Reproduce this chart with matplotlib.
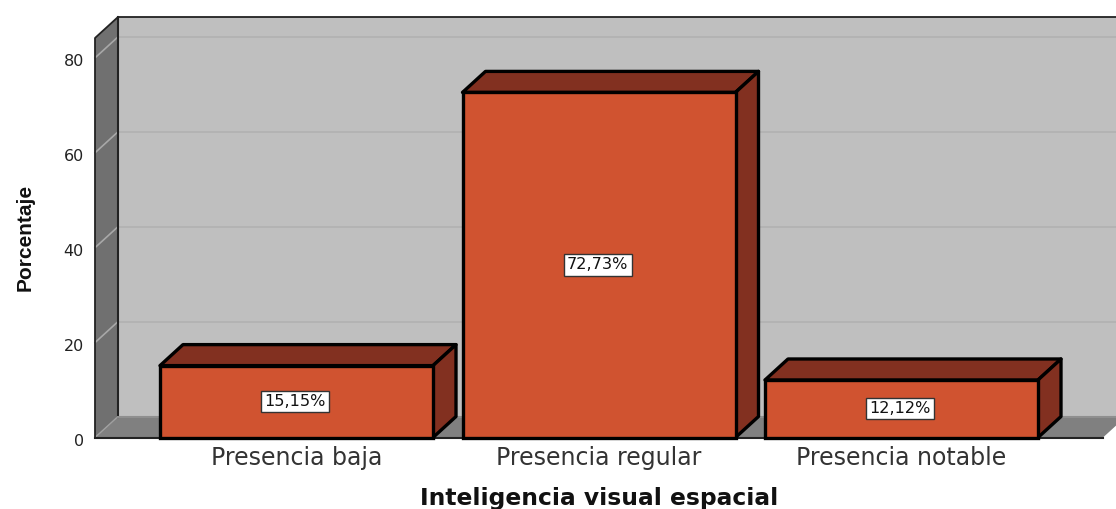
import matplotlib
matplotlib.use('Agg')
import matplotlib.pyplot as plt
from matplotlib.patches import Polygon
from matplotlib.transforms import ScaledTranslation

categories = ['Presencia baja', 'Presencia regular', 'Presencia notable']
values = [15.15, 72.73, 12.12]
labels = ['15,15%', '72,73%', '12,12%']
yticks = [0, 20, 40, 60, 80]

W, H = 1116, 509
# pixel layout of the front plane
left, right, base, top = 95, 1116, 437.5, 38
px_y = 4.745
px_x = 302.5
x0 = 296.5
dx = 23 / px_x
dy = 21 / px_y
bar_w = 273 / px_x

fig = plt.figure(figsize=(W / 100, H / 100), dpi=100)
ax = fig.add_axes([left / W, 1 - base / H, (right - left) / W, (base - top) / H])
ax.set_xlim((left - x0) / px_x, (right - x0) / px_x)
ax.set_ylim(0, (base - top) / px_y)
ax.patch.set_visible(False)
for s in ax.spines.values():
    s.set_visible(False)

xa, xb = ax.get_xlim()
ymax = ax.get_ylim()[1]
xend = (1103 - x0) / px_x


def poly(pts, fc, ec='none', lw=0, z=1):
    ax.add_patch(Polygon(pts, closed=True, fc=fc, ec=ec, lw=lw, zorder=z,
                         clip_on=False, joinstyle='round'))


# back wall, side wall, floor
poly([(xa + dx, dy), (xb + 1, dy), (xb + 1, ymax + dy), (xa + dx, ymax + dy)], '#bfbfbf')
poly([(xa, 0), (xa + dx, dy), (xa + dx, ymax + dy), (xa, ymax)], '#707070')
poly([(xa, 0), (xend, 0), (xend + dx, dy), (xa + dx, dy)], '#808080')

for v in yticks[1:]:
    ax.plot([xa + dx, xb + 1], [v + dy, v + dy], color='#b3b3b3', lw=1.4, zorder=2, clip_on=False)
    ax.plot([xa, xa + dx], [v, v + dy], color='#a8a8a8', lw=1.2, zorder=2, clip_on=False)
ax.plot([xa, xa + dx], [0, dy], color='#a0a0a0', lw=1, zorder=2)

# frame lines
ax.plot([xa, xa, xa + dx, xb + 1], [0, ymax, ymax + dy, ymax + dy], color='#222222', lw=1.3, zorder=3, clip_on=False)
ax.plot([xa + dx, xa + dx], [dy, ymax + dy], color='#222222', lw=1.5, zorder=3, clip_on=False)
ax.plot([xa, xend], [0, 0], color='#222222', lw=1.5, zorder=3, clip_on=False)
ax.plot([xa + dx, xb + 1], [dy, dy], color='#8f8f8f', lw=1.5, zorder=3, clip_on=False)

# bars
pos = list(range(len(values)))
ax.bar(pos, values, width=bar_w, color='#d05330', edgecolor='black', linewidth=2.4, zorder=5, clip_on=False)
for p, v, lab in zip(pos, values, labels):
    a, b = p - bar_w / 2, p + bar_w / 2
    poly([(a, v), (b, v), (b + dx, v + dy), (a + dx, v + dy)], '#823020', 'black', 2.4, 4)
    poly([(b, 0), (b + dx, dy), (b + dx, v + dy), (b, v)], '#823020', 'black', 2.4, 4)
    ax.text(p - 0.004, v / 2, lab, ha='center', va='center', fontsize=11.6, color='#111111',
            family='DejaVu Sans', zorder=6,
            bbox=dict(boxstyle='square,pad=0.2', fc='white', ec='#333333', lw=1))

ax.set_xticks(pos)
ax.set_xticklabels(categories, fontsize=17, family='DejaVu Sans', color='#333333')
ax.set_yticks(yticks)
ax.set_yticklabels(yticks, fontsize=11.5, family='DejaVu Sans', color='#222222')
ax.tick_params(axis='both', length=0)
ax.tick_params(axis='x', pad=6)
ax.tick_params(axis='y', pad=8)

# y labels sit a little under their grid lines
shift = ScaledTranslation(0, -1.5 / 72, fig.dpi_scale_trans)
for t in ax.get_yticklabels():
    t.set_transform(t.get_transform() + shift)

fig.text(599 / W, 1 - 499 / H, 'Inteligencia visual espacial', ha='center', va='center',
         fontsize=16.8, fontweight='bold', family='DejaVu Sans', color='#111111')
fig.text(25 / W, 1 - 237 / H, 'Porcentaje', ha='center', va='center', rotation=90,
         fontsize=15, fontweight='bold', family=['Liberation Sans Narrow', 'Liberation Sans'], color='#111111')

fig.savefig('out.png', dpi=100)
